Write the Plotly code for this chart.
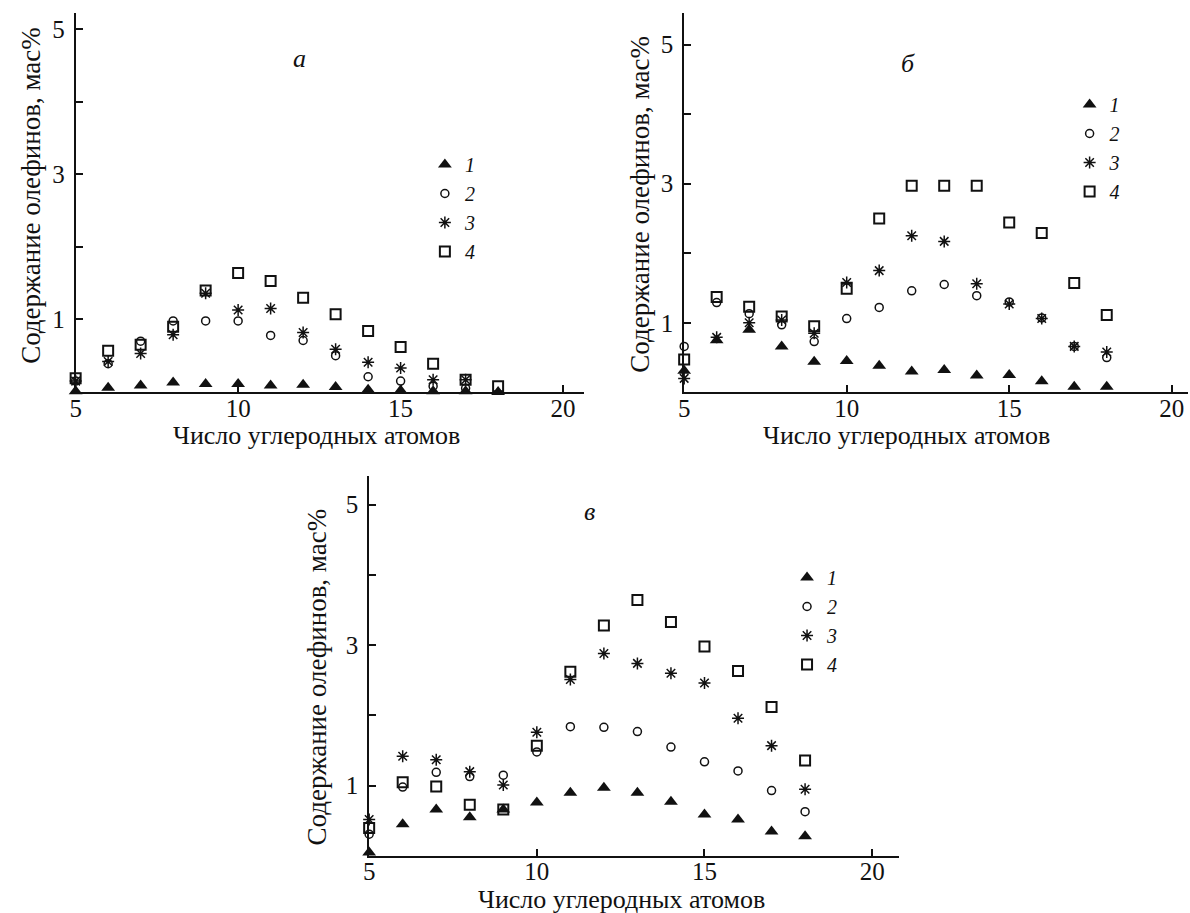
import plotly.graph_objects as go

# ---------------- data ----------------
carbon = [5, 6, 7, 8, 9, 10, 11, 12, 13, 14, 15, 16, 17, 18]
carbon_a2 = carbon[:13]   # panel a: series 2 and 3 only up to C17

# panel a
a_s1 = [0.01, 0.06, 0.09, 0.13, 0.11, 0.11, 0.09, 0.10, 0.07, 0.03, 0.02, 0.01, 0.01, 0.0]
a_s2 = [0.15, 0.39, 0.70, 0.98, 0.98, 0.98, 0.78, 0.71, 0.50, 0.21, 0.15, 0.08, 0.05]
a_s3 = [0.15, 0.42, 0.53, 0.79, 1.36, 1.13, 1.15, 0.82, 0.59, 0.41, 0.33, 0.17, 0.17]
a_s4 = [0.19, 0.57, 0.65, 0.90, 1.40, 1.64, 1.53, 1.30, 1.07, 0.84, 0.62, 0.39, 0.17, 0.08]

# panel б
b_s1 = [0.31, 0.75, 0.90, 0.66, 0.44, 0.45, 0.38, 0.30, 0.32, 0.24, 0.25, 0.16, 0.08, 0.08]
b_s2 = [0.66, 1.29, 1.13, 0.97, 0.73, 1.06, 1.22, 1.46, 1.55, 1.39, 1.30, 1.07, 0.66, 0.50]
b_s3 = [0.20, 0.79, 1.00, 1.04, 0.85, 1.58, 1.75, 2.25, 2.17, 1.56, 1.27, 1.06, 0.66, 0.58]
b_s4 = [0.47, 1.37, 1.23, 1.09, 0.95, 1.49, 2.50, 2.97, 2.97, 2.97, 2.44, 2.29, 1.57, 1.11]

# panel в
c_s1 = [0.05, 0.45, 0.66, 0.55, 0.66, 0.76, 0.90, 0.97, 0.90, 0.77, 0.59, 0.52, 0.35, 0.28]
c_s2 = [0.31, 0.98, 1.19, 1.13, 1.15, 1.48, 1.84, 1.83, 1.77, 1.55, 1.34, 1.21, 0.93, 0.63]
c_s3 = [0.52, 1.42, 1.37, 1.20, 1.01, 1.76, 2.51, 2.88, 2.74, 2.60, 2.46, 1.96, 1.57, 0.95]
c_s4 = [0.40, 1.05, 0.99, 0.73, 0.66, 1.57, 2.62, 3.28, 3.64, 3.33, 2.98, 2.63, 2.12, 1.36]

series_names = ["1", "2", "3", "4"]
panel_letters = ["а", "б", "в"]
x_title = "Число углеродных атомов"
y_title = "Содержание олефинов, мас%"
x_ticks = [5, 10, 15, 20]
y_ticks = [1, 2, 3, 4, 5]
y_ticktext = ["1", "", "3", "", "5"]

# ---------------- styling ----------------
W, H = 1190, 913
FONT = '"Liberation Serif", "Times New Roman", serif'
BLACK = "#111111"

marker_styles = [
    dict(symbol="triangle-up", size=12, color=BLACK, line=dict(width=0)),
    dict(symbol="circle-open", size=8, color=BLACK, line=dict(width=1.5, color=BLACK)),
    dict(symbol="asterisk-open", size=10, color=BLACK, line=dict(width=1.5, color=BLACK)),
    dict(symbol="square-open", size=10, color=BLACK, line=dict(width=2, color=BLACK)),
]

panels = [
    dict(xs=[carbon, carbon_a2, carbon_a2, carbon], ys=[a_s1, a_s2, a_s3, a_s4],
         xpx=(70, 580.5), ypx=(392, 13.3), xr=[5, 20.63], yr=[0, 5.22],
         legend="legend", leg=(421, 145), letter=(11.88, 4.6),
         ytitle=(25, 195), xtitle=(312, 435), xstand=-7),
    dict(xs=[carbon] * 4, ys=[b_s1, b_s2, b_s3, b_s4],
         xpx=(681.6, 1188), ypx=(392.3, 13.3), xr=[5, 20.5], yr=[0, 5.45],
         legend="legend2", leg=(1069, 85), letter=(11.88, 4.73),
         ytitle=(637, 204), xtitle=(905, 435), xstand=-7),
    dict(xs=[carbon] * 4, ys=[c_s1, c_s2, c_s3, c_s4],
         xpx=(365, 897.5), ypx=(856, 476.4), xr=[5, 20.8], yr=[0, 5.4],
         legend="legend3", leg=(785, 558), letter=(11.58, 4.9),
         ytitle=(313, 677), xtitle=(619, 899), xstand=-8),
]

fig = go.Figure()
annotations = []
layout_axes = {}

for i, p in enumerate(panels):
    sfx = "" if i == 0 else str(i + 1)
    xa, ya = "x" + sfx, "y" + sfx
    for k in range(4):
        fig.add_trace(go.Scatter(
            x=p["xs"][k], y=p["ys"][k], mode="markers",
            marker=marker_styles[k], name="<i>%s</i>" % series_names[k],
            xaxis=xa, yaxis=ya, legend=p["legend"], cliponaxis=False,
            hoverinfo="x+y"))
    common = dict(showline=True, linecolor=BLACK, linewidth=2, ticks="inside",
                  ticklen=7, tickwidth=2, tickcolor=BLACK, showgrid=False,
                  zeroline=False, tickfont=dict(family=FONT, size=25, color=BLACK),
                  fixedrange=True)
    layout_axes["xaxis" + sfx] = dict(
        common, domain=[p["xpx"][0] / W, p["xpx"][1] / W], range=p["xr"],
        anchor=ya, tickmode="array", tickvals=x_ticks,
        ticklabelstandoff=p["xstand"])
    layout_axes["yaxis" + sfx] = dict(
        common, domain=[1 - p["ypx"][0] / H, 1 - p["ypx"][1] / H], range=p["yr"],
        anchor=xa, tickmode="array", tickvals=y_ticks, ticktext=y_ticktext,
        ticklabelstandoff=4)
    lx, ly = p["leg"]
    layout_axes[p["legend"]] = dict(
        x=lx / W, y=1 - ly / H, xanchor="left", yanchor="top",
        bgcolor="rgba(0,0,0,0)", font=dict(family=FONT, size=20, color=BLACK),
        tracegroupgap=0, itemwidth=30)
    annotations.append(dict(
        x=p["letter"][0], y=p["letter"][1], xref=xa, yref=ya, showarrow=False,
        xanchor="center", yanchor="middle",
        text="<i>%s</i>" % panel_letters[i],
        font=dict(family=FONT, size=26, color=BLACK)))
    annotations.append(dict(
        x=p["ytitle"][0] / W, y=1 - p["ytitle"][1] / H, xref="paper", yref="paper",
        xanchor="center", yanchor="middle",
        showarrow=False, text=y_title, textangle=-90,
        font=dict(family=FONT, size=27, color=BLACK)))
    annotations.append(dict(
        x=p["xtitle"][0] / W, y=1 - p["xtitle"][1] / H, xref="paper", yref="paper",
        xanchor="center", yanchor="middle",
        showarrow=False, text=x_title,
        font=dict(family=FONT, size=26, color=BLACK)))

fig.update_layout(
    width=W, height=H, margin=dict(l=0, r=0, t=0, b=0),
    paper_bgcolor="white", plot_bgcolor="white",
    annotations=annotations, showlegend=True, **layout_axes)

fig.write_html("out.html")
